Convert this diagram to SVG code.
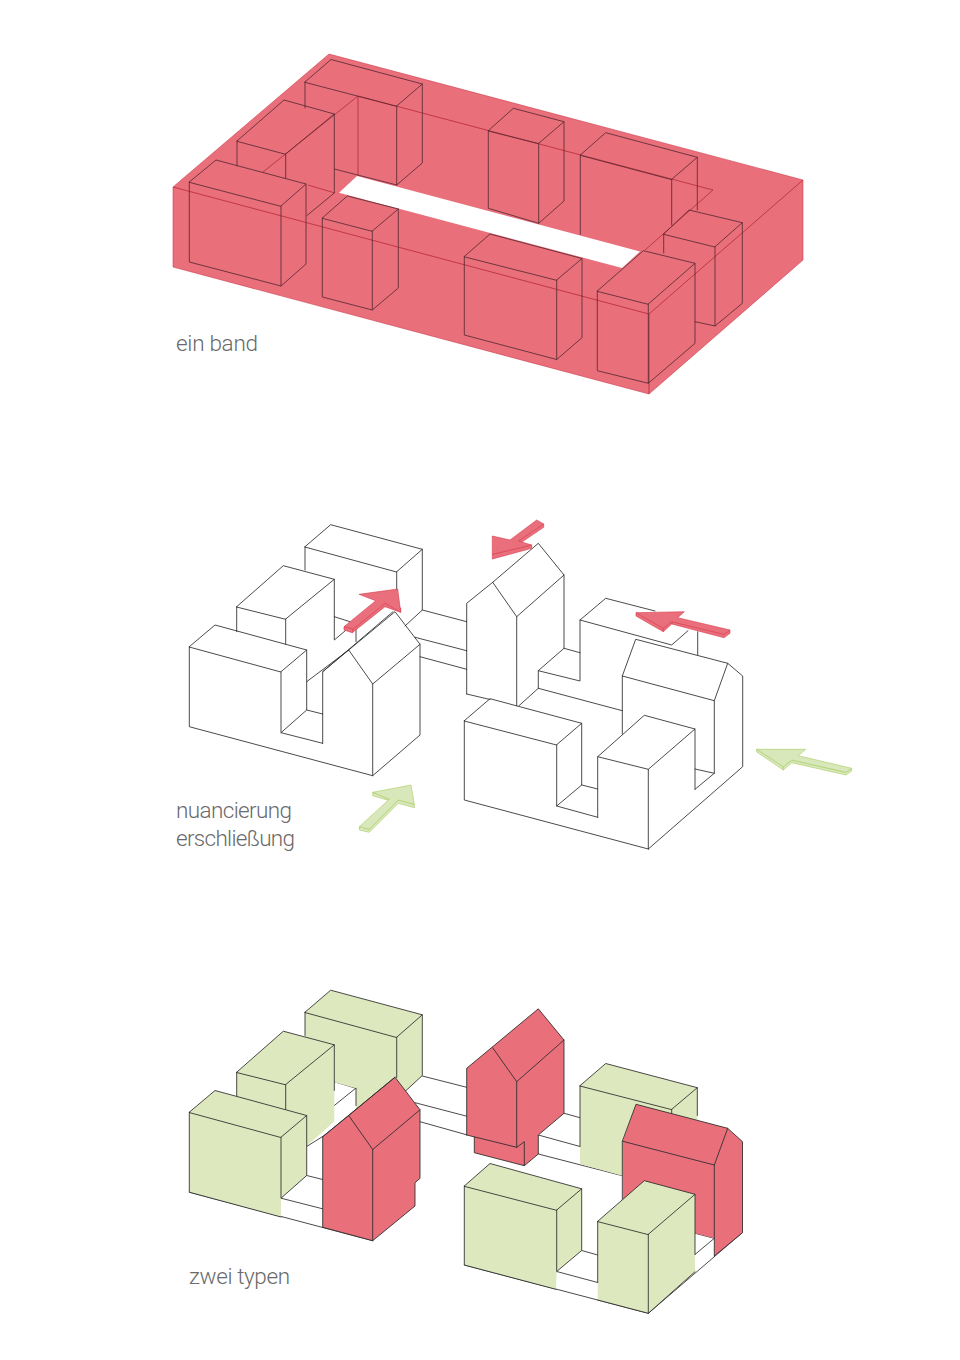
<svg xmlns="http://www.w3.org/2000/svg" width="960" height="1360" viewBox="0 0 960 1360">
<style>
.l{fill:none;stroke:#2b2b2b;stroke-width:.85;stroke-linejoin:round;stroke-linecap:round}
.d{fill:none;stroke:#5a2a33;stroke-width:.85;stroke-linejoin:round;stroke-linecap:round}
.r{fill:none;stroke:#b0202f;stroke-width:.7;stroke-linejoin:round}
.band{fill:#e96f7b;stroke:#cf4050;stroke-width:.6}
.g{fill:#dde8bf}
.p{fill:#e96f7b}
.ar{fill:#ea6f7c;stroke:#d93a4c;stroke-width:.6;stroke-linejoin:round}
.ag{fill:#d9e8ba;stroke:#a8cb62;stroke-width:.6;stroke-linejoin:round}
text{font-family:"Roboto","Liberation Sans",sans-serif;font-weight:300;font-size:22.500px;fill:#6a6a6a}
</style>
<rect width="960" height="1360" fill="#fff"/>

<g id="panel-band">
<polygon class="band" points="329,54 803,180 803,260 649,394 173,267 173,187"/>
<polygon fill="#fff" points="357,176 640,251.5 622,268 339,192.7"/>
<g id="band-outline">
<path class="r" d="M173,187 649,314 803,180M649,314V394M358,96 713,190 645,250M358,96V176M358,96 263,172M308,185 335,193"/>
</g>
<g id="band-b1"><path class="d" d="M189.3,182 216,160 306,184 281,206ZM189.3,182V262L281,286V206M281,286 306,264V184"/></g>
<g id="band-b2"><path class="d" d="M237,141 284,100 334.3,114 285.7,154ZM237,141V166M285.7,154V178M334.3,114V193L307,215.5"/></g>
<g id="band-b3"><path class="d" d="M305,82 331,59.5 422.3,84 396.7,106ZM305,82V108M396.7,106V185L422.3,163V84M334.3,169 396.7,185"/></g>
<g id="band-b4"><path class="d" d="M322.3,218 347.3,196 398.3,209 372.3,231ZM322.3,218V297L372.3,310V231M372.3,310 398.3,288V209"/></g>
<g id="band-b5"><path class="d" d="M488.3,130.7 513.3,108.3 564,121.7 538.7,143.3ZM488.3,130.7V208.3L538.7,223.3M538.7,143.3V223.3L564,201V121.7"/></g>
<g id="band-b6"><path class="d" d="M580.3,155 605.7,132.7 697.3,157.3 671.7,179.3ZM580.3,155V234.3M671.7,179.3V225M697.3,157.3V210"/></g>
<g id="band-b7"><path class="d" d="M663.7,234 689,210 742.3,222.7 715,246.7ZM663.7,234V253M715,246.7V326L742.3,303.3V222.7M695,321.7 715,326"/></g>
<g id="band-b8"><path class="d" d="M597.3,291 643.3,250.7 695,263.3 648.3,304ZM597.3,291V370.7L648.3,383.3V304M648.3,383.3 695,343.3V263.3"/></g>
<g id="band-b9"><path class="d" d="M464.3,256.5 490,234 582,258.5 556.7,280ZM464.3,256.5V335L556.7,359.5V280M556.7,359.5 582,337.7V258.5"/></g>
</g>
<text x="176" y="350.500" textLength="82" lengthAdjust="spacing">ein band</text>

<g id="panel-access">
<g id="access-back-block"><path class="l" d="M305,546.700 330.700,524.700 422.300,549.300 396.700,571.700ZM305,546.700V570M396.700,571.700V590M422.300,549.300V610L405,626"/></g>
<g id="access-mid-block"><path class="l" d="M236.700,606.700 283.300,565.700 334.300,579.300 285.700,619ZM236.700,606.700V631.700M285.700,619V644M334.300,579.300V640L350,626.700M334.300,616.700 350,621.700M356,625V641.700M306.700,681.700 348.700,650"/></g>
<g id="access-left-block"><path class="l" d="M189.300,646.700 215,625 306.700,650 281,671.700ZM189.300,646.700V726.700L372.700,775.700M281,671.700V732.700L322.700,743.300M281,732.700 306.700,710V650M306.700,710 322.700,714"/></g>
<g id="access-house-left"><path class="l" d="M322.700,743.300V671.700L348.700,650 372.700,684V775.700L420,735V644.300L395,611.700 348.700,650M372.700,684 420,644.300M322.700,671.700 393,611.700"/></g>
<g id="access-links"><path class="l" d="M422.300,610 466.700,621.700M415,637.300 466.700,650.700M420,656.700 466.700,669.300"/></g>
<g id="access-house-mid"><path class="l" d="M466.700,694V603.300L492.700,582.300 538.300,543.300 564,575 516.700,616.700 492.700,582.300M516.700,616.700V705.700M466.700,694 490,699.500M564,575V648.300L538.300,670.700V688.300L519,705.700M538.300,670.700 580,681V620L605.700,598.300 655,611M580,652.700 564,648.300M580,620 671.700,645 688,630.700M697.700,631.700V655M538.300,688.300 622.300,710.700"/></g>
<g id="access-long-house"><path class="l" d="M622.300,734V676L635.700,639.300 727.700,663.300 714.300,700.700 622.300,676M714.300,700.700V773.300L695,789.300M695,769 714.300,773.300M727.700,663.300 742.700,676V766.700L648.300,849"/></g>
<g id="access-front-left"><path class="l" d="M464.300,720.700 490,698.700 581.700,723.300 556.700,744.700ZM464.300,720.700V800L648.300,849M556.700,744.700V806L597.700,817.300M556.700,806 581.700,785V723.300M581.700,785 597.700,789"/></g>
<g id="access-front-right"><path class="l" d="M597.700,817.300V756.700L644.300,715.300 695,729 648.300,769.300 597.700,756.700M648.300,769.300V849M695,729V789.300"/></g>
<g id="arrow-red-1"><polygon class="ar" points="344,626.700 344,630 352.300,632.700 353.300,629"/><polygon class="ar" points="353.300,629 352.300,632.700 385,606.700 400.700,612.300 400.700,608 385,603.300"/><polygon class="ar" points="344,626.700 375.700,600.700 359,594.300 397.700,589 400.700,612.300 385,603.300 353.300,629"/></g>
<g id="arrow-red-2"><polygon class="ar" points="492.300,554.300 492.300,559 531.700,548.300 531.700,545"/><polygon class="ar" points="518.300,541 520,543.300 543.700,527.300 543.700,524"/><polygon class="ar" points="543.700,524 536.700,520 510,540 492.300,536 492.300,554.300 531.700,545 518.300,541"/></g>
<g id="arrow-red-3"><polygon class="ar" points="636,612.700 636,616 663.300,631.700 663.300,628.300"/><polygon class="ar" points="671.700,621.700 671.700,624 724,637.700 730,633.300 730,630 724,634.300"/><polygon class="ar" points="663.300,628.300 663.300,631.700 671.700,624 671.700,621.700"/><polygon class="ar" points="636,612.700 684.300,611.700 677.700,617.700 730,630 724,634.300 671.700,621.700 663.300,628.300"/></g>
<g id="arrow-green-1"><polygon class="ag" points="756.700,749.300 756.700,752 783.300,770 783.300,766.700"/><polygon class="ag" points="783.300,766.700 783.300,770 791.700,762.700 846,775 851.700,771 851.700,768.300 846,772.300 791.700,760"/><polygon class="ag" points="756.700,749.300 805.700,749.300 798.300,755.700 851.700,768.300 846,772.300 791.700,760 783.300,766.700"/></g>
<g id="arrow-green-2"><polygon class="ag" points="359.300,826.700 359.300,830 369.300,832.300 398.300,803.300 414.300,807.700 414.300,804.300 398.300,800 369.300,829.300"/><polygon class="ag" points="372.700,792.300 372.700,795.700 387,800 389.300,799.300"/><polygon class="ag" points="359.300,826.700 389.300,799.300 372.700,792.300 411,785 414.300,804.300 398.300,800 369.300,829.300"/></g>
</g>
<text x="176" y="818" textLength="116" lengthAdjust="spacing">nuancierung</text>
<text x="176" y="845.700" textLength="119" lengthAdjust="spacing">erschließung</text>

<g id="panel-types" transform="translate(0 465.500)">
<g id="types-links"><path class="l" d="M422.300,610.500 466.700,621.800M415,637.200 466.700,650.700M420,656.200 466.700,669.300M564,647.800 580,652.200M538.300,669.500 580,681M538.300,688.500 622.300,710.200M334.300,640 356,622.500M334.300,616.200 356,622.800M306.700,710 322.700,714M281,732.700 322.700,743.300M189.300,726.700 372.700,775.200M556.700,806 597.700,817M581.700,785 597.700,789.500M464.300,799.500 648.300,847.800 742.300,767.200M695,789 714.300,772.800M695,767.800 714.300,772.800"/></g>
<g id="types-back-block">
<polygon class="g" points="305,546.700 330.700,524.700 422.300,549.300 422.300,610 405,626 356,645 356,622.800 334.300,616.700 334.300,590 305,575"/>
<path class="l" d="M305,546.700 330.700,524.700 422.300,549.300 396.700,571.700ZM305,546.700V570M396.700,571.700V612M422.300,549.300V610L405,626M356,622.800V640"/>
</g>
<g id="types-mid-block">
<polygon class="g" points="236.700,606.700 283.300,565.700 334.300,579.300 334.300,656 306.700,680.600 285.700,690 236.700,640"/>
<path class="l" d="M236.700,606.700 283.300,565.700 334.300,579.300 285.700,619ZM236.700,606.700V631.700M285.700,619V644M334.300,579.300V625M306.700,681 322.700,671"/>
</g>
<g id="types-left-block">
<polygon class="g" points="189.300,646.700 215,625 306.700,650 306.700,710 281,732.700 281,751.500 189.300,726.700"/>
<path class="l" d="M189.300,646.700 215,625 306.700,650 281,671.700ZM189.300,646.700V726.700L281,751.500M281,671.700V732.700L306.700,710V650"/>
</g>
<g id="types-house-left">
<polygon class="p" points="322.700,671.200 395,611.700 420,644.300 420,712.800 418.300,714.500 415,717.200 415,740.500 372.700,775.200 322.700,761.800"/>
<path class="l" d="M322.700,761.800V671.200L348.700,650 372.700,684V775.200L415,740.500V717.200L420,712.800V644.300L395,611.700 348.700,650M372.700,684 420,644.300M322.700,671.200 395,611.700M322.700,761.800 372.700,775.200"/>
</g>
<g id="types-house-mid">
<polygon class="p" points="474.300,671.800 474.300,687.200 524.300,700.200 538.300,688.500 538.300,669.500 564,647.800 564,574.500 538.300,543.300 466.700,602.800 466.700,669.500"/>
<path class="l" d="M466.700,669.500V602.800L538.300,543.300 564,574.500 516.700,616.200 492.700,582.300M516.700,616.200V681.800L524.300,676.200V700.200L474.300,687.200V671.800M466.700,669.500 516.700,681.800M564,574.500V647.800L538.300,669.500V688.500L524.300,700.200"/>
</g>
<g id="types-back-right">
<polygon class="g" points="580,620.200 605.700,598 697.300,622.200 697.300,660 672,655 640,712 622.300,710.200 580,698.500"/>
<path class="l" d="M580,620.200 605.700,598 697.300,622.200 671.700,643.800ZM580,620.200V681M697.300,622.200V650M671.700,643.800V648"/>
</g>
<g id="types-long-house">
<polygon class="p" points="622.700,675.800 636,638.800 727.700,662.800 742.500,676.200 742.500,767.200 714.300,790.500 714.300,772.800 695,767.800 622.700,734"/>
<path class="l" d="M622.300,734V675.800L636,638.800 727.700,662.800 714.300,699.500 622.700,675.800M714.300,699.500V790.500M727.700,662.800 742.500,676.200V767.200L714.300,790.500"/>
</g>
<g id="types-front-left">
<polygon class="g" points="464.300,720.500 490,698 581.700,723.300 581.700,785 556.700,806 556,823.800 464.300,799.500"/>
<path class="l" d="M464.300,720.500 490,698 581.700,723.300 556.700,744.500ZM464.300,720.500V799.500L556,823.800M556.700,744.500V806L581.700,785V723.300"/>
</g>
<g id="types-front-right">
<polygon class="g" points="597.700,755.800 644.300,715.200 695,728.800 695,806.200 648.300,847.800 597.700,834.500"/>
<path class="l" d="M597.700,755.800 644.300,715.200 695,728.800 648.300,768.800ZM597.700,755.800V817M648.300,768.800V847.800L695,806.200M695,728.800V789M597.700,834.500 648.300,847.800"/>
</g>
</g>
<text x="189" y="1283.500" textLength="101" lengthAdjust="spacing">zwei typen</text>
</svg>
